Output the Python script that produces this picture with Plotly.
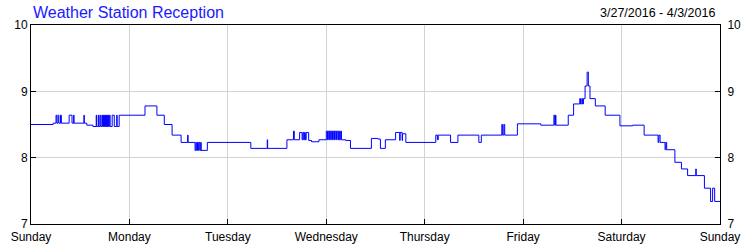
import pandas as pd
import plotly.graph_objects as go

title_text = "Weather Station Reception"
date_range_text = "3/27/2016 - 4/3/2016"
start_date = "2016-03-27"

day_labels = ["Sunday", "Monday", "Tuesday", "Wednesday", "Thursday", "Friday", "Saturday", "Sunday"]
day_dates = pd.date_range("2016-03-27", "2016-04-03", freq="D")

hours = [
    0.0, 5.4, 6.1, 6.3, 6.6, 6.8, 7.2, 7.4, 9.3, 10.0, 10.4, 10.5, 12.9, 13.0, 13.6, 15.1,
    15.9, 16.0, 16.4, 16.5, 16.8, 17.0, 17.3, 17.45, 17.6, 17.7, 17.85, 17.95, 18.1, 18.2,
    18.35, 18.45, 18.6, 18.7, 18.85, 18.95, 19.1, 19.3, 19.8, 20.3, 20.9, 21.0, 21.5,
    27.8, 30.7, 32.5, 34.4, 36.6, 38.2, 38.3, 40.0, 40.2, 40.4, 40.6, 40.8, 41.0, 41.2, 41.4, 41.5, 43.0,
    53.6, 57.6, 57.7, 62.4, 64.0, 64.2, 65.5, 66.1, 66.3, 66.5, 66.7, 66.9, 67.1, 67.7, 68.4, 70.2,
    72.0, 72.3, 72.5, 72.8, 73.0, 73.3, 73.5, 73.8, 74.0, 74.3, 74.5, 74.8, 75.0, 75.2, 75.5, 75.7,
    76.7, 77.9, 83.0, 84.6, 85.2, 86.4, 88.9, 89.9, 90.0, 90.5, 90.6, 91.4,
    98.7, 99.1, 99.3, 102.3, 104.1, 109.2, 109.8, 114.8, 115.0, 115.3, 115.5, 118.6,
    124.3, 127.5, 127.7, 127.9, 128.0, 131.0, 132.3, 133.8, 134.0, 134.3, 134.5, 134.7,
    135.1, 135.6, 135.9, 136.3, 137.6, 140.0, 143.6,
    146.7, 149.5, 152.9, 153.1, 153.4, 154.6, 154.8, 155.0, 157.0, 158.6, 160.1, 162.1, 162.2,
    164.2, 165.7, 166.2, 166.7, 168.0,
]
reception = [
    8.50, 8.52, 8.64, 8.52, 8.64, 8.52, 8.64, 8.52, 8.64, 8.52, 8.64, 8.52, 8.64, 8.52, 8.49, 8.47,
    8.64, 8.47, 8.64, 8.47, 8.64, 8.47, 8.64, 8.47, 8.64, 8.47, 8.64, 8.47, 8.64, 8.47,
    8.64, 8.47, 8.64, 8.47, 8.64, 8.47, 8.64, 8.47, 8.64, 8.47, 8.64, 8.47, 8.64,
    8.78, 8.64, 8.50, 8.34, 8.23, 8.34, 8.23, 8.11, 8.23, 8.11, 8.23, 8.11, 8.23, 8.11, 8.23, 8.11, 8.23,
    8.14, 8.27, 8.14, 8.27, 8.40, 8.27, 8.38, 8.27, 8.38, 8.27, 8.38, 8.27, 8.38, 8.26, 8.24, 8.27,
    8.40, 8.27, 8.40, 8.27, 8.40, 8.27, 8.40, 8.27, 8.40, 8.27, 8.40, 8.27, 8.40, 8.27, 8.40, 8.27,
    8.26, 8.14, 8.29, 8.28, 8.14, 8.27, 8.38, 8.26, 8.38, 8.26, 8.36, 8.23,
    8.34, 8.27, 8.34, 8.23, 8.34, 8.23, 8.34, 8.50, 8.34, 8.50, 8.34, 8.51,
    8.49, 8.64, 8.49, 8.64, 8.49, 8.64, 8.81, 8.89, 8.81, 8.89, 8.81, 8.89,
    9.08, 9.29, 9.08, 8.89, 8.78, 8.64, 8.48,
    8.49, 8.34, 8.23, 8.34, 8.23, 8.12, 8.23, 8.12, 7.93, 7.83, 7.73, 7.83, 7.73,
    7.54, 7.34, 7.54, 7.34, 7.34,
]
y_ticks = [7, 8, 9, 10]

times = pd.Timestamp(start_date) + pd.to_timedelta(hours, unit="h")

FONT = "Liberation Sans, Arial, sans-serif"

fig = go.Figure()
fig.add_trace(go.Scatter(
    x=times, y=reception, mode="lines", line=dict(color="#0000FF", width=1, shape="hv"),
    hoverinfo="skip", showlegend=False,
))
fig.add_trace(go.Scatter(
    x=times, y=reception, mode="lines", yaxis="y2",
    line=dict(color="rgba(0,0,0,0)", width=0, shape="hv"),
    hoverinfo="skip", showlegend=False,
))

fig.update_layout(
    width=750, height=250,
    margin=dict(l=31, r=30, t=25, b=26, autoexpand=False),
    paper_bgcolor="white", plot_bgcolor="white",
    font=dict(family=FONT, size=12, color="black"),
    xaxis=dict(
        range=[day_dates[0], day_dates[-1]],
        tickvals=list(day_dates), ticktext=day_labels,
        showgrid=True, gridcolor="#d3d3d3", gridwidth=1,
        showline=True, linecolor="black", linewidth=1, mirror=True,
        ticks="inside", ticklen=5, tickcolor="black",
        tickfont=dict(family=FONT, size=12, color="black"),
        ticklabelstandoff=2,
        zeroline=False,
    ),
    yaxis=dict(
        range=[7, 10], tickvals=y_ticks,
        showgrid=True, gridcolor="#d3d3d3", gridwidth=1,
        showline=True, linecolor="black", linewidth=1,
        ticks="inside", ticklen=5, tickcolor="black",
        tickfont=dict(family=FONT, size=12, color="black"),
        zeroline=False,
    ),
    yaxis2=dict(
        range=[7, 10], tickvals=y_ticks, overlaying="y", side="right",
        showgrid=False, showline=True, linecolor="black", linewidth=1,
        ticks="inside", ticklen=5, tickcolor="black",
        tickfont=dict(family=FONT, size=12, color="black"),
        ticklabelstandoff=4,
        zeroline=False,
    ),
    annotations=[
        dict(text=title_text, xref="paper", yref="paper", x=0.0, y=1.065,
             xanchor="left", yanchor="middle", showarrow=False,
             font=dict(family=FONT, size=16, color="#1a1aff")),
        dict(text=date_range_text, xref="paper", yref="paper", x=0.9956, y=1.06,
             xanchor="right", yanchor="middle", showarrow=False,
             font=dict(family=FONT, size=12.5, color="black")),
    ],
)

fig.write_html("out.html")
